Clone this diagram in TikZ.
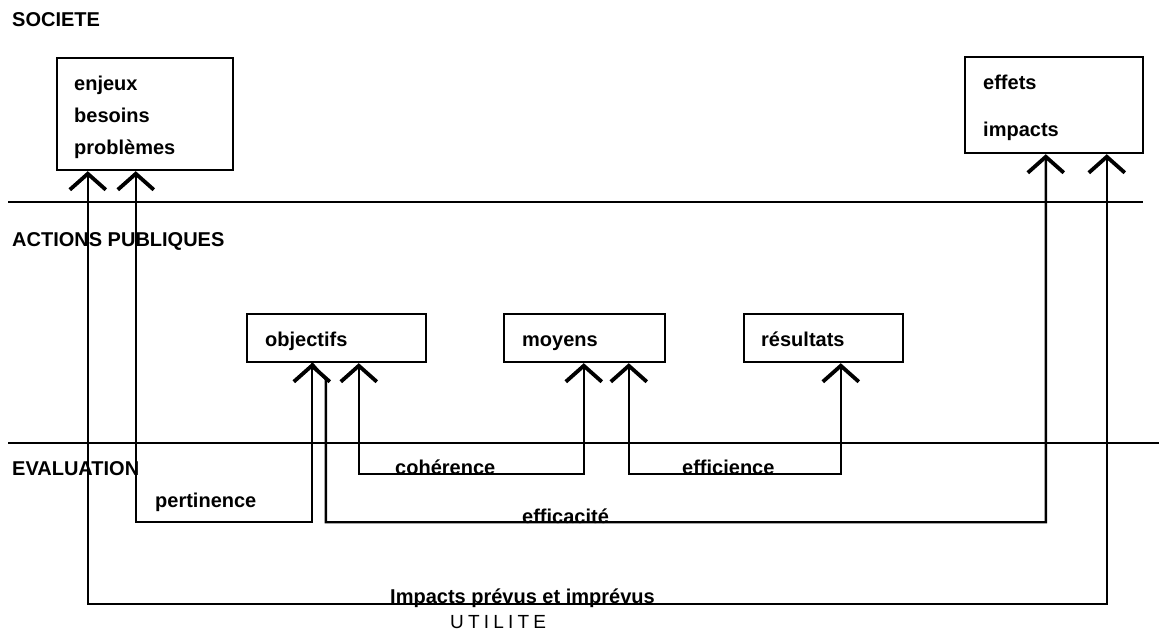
\documentclass[tikz,border=0pt]{standalone}
\usepackage{fontspec}
\setmainfont{Liberation Sans}
\newfontfamily\handfont[LetterSpace=22]{Liberation Sans}
\usetikzlibrary{arrows.meta,calc}
\begin{document}
\begin{tikzpicture}[x=1bp,y=-1bp,
  txt/.style={font=\fontsize{20bp}{24bp}\selectfont\bfseries, inner sep=0pt, anchor=base west},
  box/.style={draw, line width=2.4bp, inner sep=0pt},
  sep/.style={line width=2bp},
  link/.style={line width=2.4bp},
  barb/.tip={Straight Barb[length=16bp, width=36bp, line width=3.8bp]},
  both/.style={barb-barb},
  tipstart/.style={barb-}]
\useasboundingbox (0,0) rectangle (1159,631);

% layer headings
\node[txt] (hsoc) at (12,27) {SOCIETE};
\node[txt] (hact) at (12,247) {ACTIONS PUBLIQUES};
\node[txt] (heva) at (12,475) {EVALUATION};

% separators between the layers
\draw[sep] (8,202) -- (1143,202);
\draw[sep] (8,443) -- (1159,443);

% boxes
\node[box, minimum width=176bp, minimum height=112bp] (soc) at (145,114) {};
\node[box, minimum width=178bp, minimum height=96bp] (eff) at (1054,105) {};
\node[box, minimum width=179bp, minimum height=48bp] (obj) at (336.5,338) {};
\node[box, minimum width=161bp, minimum height=48bp] (moy) at (584.5,338) {};
\node[box, minimum width=159bp, minimum height=48bp] (res) at (823.5,338) {};

% box contents
\node[txt] (t1) at (74,91) {enjeux};
\node[txt] (t2) at (74,123) {besoins};
\node[txt] (t3) at (74,155) {problèmes};
\node[txt] (t4) at (983,90) {effets};
\node[txt] (t5) at (983,137) {impacts};
\node[txt] (t6) at (265,347) {objectifs};
\node[txt] (t7) at (522,347) {moyens};
\node[txt] (t8) at (761,347) {résultats};

% utilité
\draw[link, both] ($(soc.south west)+(32,0)$) -- ++(0,433) -| ($(eff.south west)+(143,0)$);
% pertinence
\draw[link, both] ($(soc.south west)+(80,0)$) -- ++(0,351) -| ($(obj.south west)+(66,0)$);
% efficacité
\draw[link, tipstart] ($(eff.south west)+(82,0)$) -- ++(0,368) -| ($(obj.south west)+(80,16)$) -- ($(obj.south west)+(66,0)$);
% cohérence
\draw[link, both] ($(obj.south west)+(113,0)$) -- ++(0,111) -| ($(moy.south west)+(81,0)$);
% efficience
\draw[link, both] ($(moy.south west)+(126,0)$) -- ++(0,111) -| ($(res.south west)+(98,0)$);

% criteria
\node[txt] (lper) at (155,507) {pertinence};
\node[txt] (lcoh) at (395,474) {cohérence};
\node[txt] (lefi) at (682,474) {efficience};
\node[txt] (lefa) at (522,523) {efficacité};
\node[txt] (limp) at (390,603) {Impacts prévus et imprévus};
\node[inner sep=0pt, anchor=base west, font=\handfont\fontsize{19bp}{22bp}\selectfont] (luti) at (450,628) {UTILITE};
\end{tikzpicture}
\end{document}
